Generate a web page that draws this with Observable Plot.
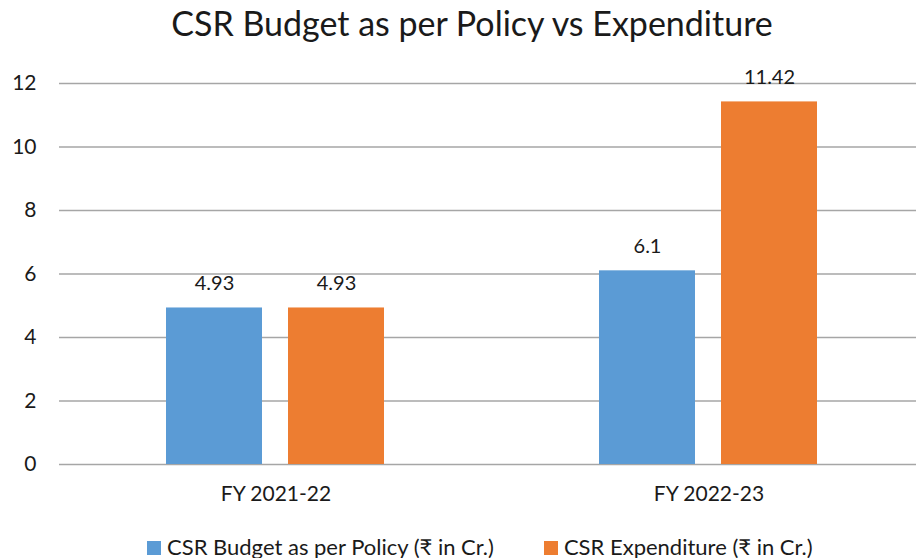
<!DOCTYPE html>
<html><head><meta charset="utf-8">
<script src="https://cdn.jsdelivr.net/npm/d3@7"></script>
<script src="https://cdn.jsdelivr.net/npm/@observablehq/plot@0.6"></script>
<style>
html,body{margin:0;padding:0;background:#fff}
body{width:916px;height:558px;overflow:hidden;font-family:Lato,"Noto Sans",sans-serif;color:#1a1a1a;position:relative}
#title{height:62px;line-height:46px;font-size:34px;text-align:center;padding-left:28px;box-sizing:border-box;white-space:nowrap}
#chart{height:458px}
#chart svg{overflow:hidden}
#legend{position:absolute;left:147px;top:534px;display:flex;gap:50px;font-size:22px;white-space:nowrap;line-height:26px}
.item{display:flex;align-items:center}
.sw{width:14px;height:14px;margin-right:6px;margin-top:2px}
</style></head><body>
<div id="title">CSR Budget as per Policy vs Expenditure</div>
<div id="chart"></div>
<div id="legend"></div>
<script>
const categories = ["FY 2021-22", "FY 2022-23"];
const series = ["CSR Budget as per Policy (₹ in Cr.)", "CSR Expenditure (₹ in Cr.)"];
const budget = [4.93, 6.1];
const expenditure = [4.93, 11.42];
const yTicks = [0, 2, 4, 6, 8, 10, 12];
const colors = ["#5B9BD5", "#ED7D31"];

const data = [];
categories.forEach((c, i) => {
  data.push({cat: c, series: series[0], value: budget[i]});
  data.push({cat: c, series: series[1], value: expenditure[i]});
});

const plot = Plot.plot({
  width: 916, height: 458,
  marginLeft: 58, marginRight: -9, marginTop: 21, marginBottom: 56,
  style: {fontFamily: "Lato, 'Noto Sans', sans-serif", fontSize: "20px", color: "#1a1a1a", background: "white"},
  fx: {domain: categories, padding: 0, label: null},
  x: {domain: series, paddingInner: 0.21, paddingOuter: 0.868, axis: null},
  y: {domain: [0, 12], label: null},
  color: {domain: series, range: colors},
  marks: [
    Plot.ruleY(yTicks, {stroke: "#a6a6a6", strokeWidth: 1.5}),
    Plot.barY(data, {fx: "cat", x: "series", y: "value", fill: "series"}),
    Plot.text(data, {fx: "cat", x: "series", y: "value", text: d => String(d.value), dy: -24, fontSize: 20, fill: "#1a1a1a"}),
    Plot.axisY({ticks: yTicks, tickSize: 0, tickPadding: 23, fontSize: 21, label: null}),
    Plot.axisFx({anchor: "bottom", tickSize: 0, tickPadding: 22, fontSize: 21, label: null})
  ]
});
document.getElementById("chart").appendChild(plot);

const legend = document.getElementById("legend");
series.forEach((s, i) => {
  const item = document.createElement("div");
  item.className = "item";
  const sw = document.createElement("span");
  sw.className = "sw";
  sw.style.background = colors[i];
  const t = document.createElement("span");
  t.textContent = s;
  item.appendChild(sw);
  item.appendChild(t);
  legend.appendChild(item);
});
</script>
</body></html>
